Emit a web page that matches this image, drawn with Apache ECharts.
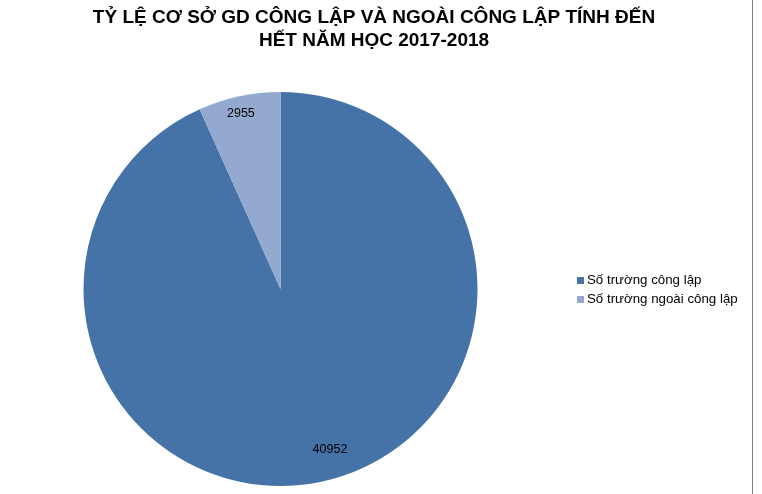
<!DOCTYPE html>
<html><head><meta charset="utf-8">
<script src="https://cdn.jsdelivr.net/npm/echarts@6/dist/echarts.min.js"></script>
<style>html,body{margin:0;padding:0;background:#fff}#c{width:762px;height:494px}</style>
</head><body><div id="c"></div>
<script>
const titleText = 'TỶ LỆ CƠ SỞ GD CÔNG LẬP VÀ NGOÀI CÔNG LẬP TÍNH ĐẾN\nHẾT NĂM HỌC 2017-2018';
const categories = ['Số trường công lập', 'Số trường ngoài công lập'];
const values = [40952, 2955];
const colors = ['#4572A7', '#93A9CF'];

const data = categories.map((name, i) => ({ name, value: values[i], itemStyle: { color: colors[i] } }));
const labelFont = { fontFamily: 'Liberation Sans', fontSize: 12.5, color: '#000' };
function overlay(showIdx, inner, dx, dy) {
  return {
    type: 'pie', center: [280.5, 289], radius: [inner, 197], startAngle: 90, clockwise: true,
    itemStyle: { color: 'rgba(0,0,0,0)' }, silent: true, legendHoverLink: false,
    label: Object.assign({ show: true, position: 'inside', formatter: '{c}' }, labelFont),
    labelLine: { show: false },
    labelLayout: { dx: dx, dy: dy },
    data: categories.map((name, i) => ({ name: name + ' ', value: values[i], label: { show: i === showIdx } }))
  };
}
const chart = echarts.init(document.getElementById('c'));
chart.setOption({
  animation: false,
  title: {
    text: titleText, left: 369, top: 1, textAlign: 'center',
    textStyle: { fontFamily: 'Liberation Sans', fontWeight: 'bold', fontSize: 19, lineHeight: 23, color: '#000' }
  },
  legend: {
    orient: 'vertical', left: 572, top: 269, itemWidth: 7, itemHeight: 7, itemGap: 6,
    icon: 'rect', data: categories,
    textStyle: { fontFamily: 'Liberation Sans', fontSize: 13.3, color: '#000', padding: [0, 0, 0, -2] }
  },
  graphic: [{ type: 'line', shape: { x1: 752.5, y1: 0, x2: 752.5, y2: 494 }, style: { stroke: '#808080', lineWidth: 1 } }],
  series: [
    {
      type: 'pie', center: [280.5, 289], radius: [0, 197], startAngle: 90, clockwise: true,
      label: { show: false }, labelLine: { show: false }, data: data, silent: true
    },
    overlay(0, 135, 14, -5),
    overlay(1, 165, -1, 4)
  ]
});
</script></body></html>
